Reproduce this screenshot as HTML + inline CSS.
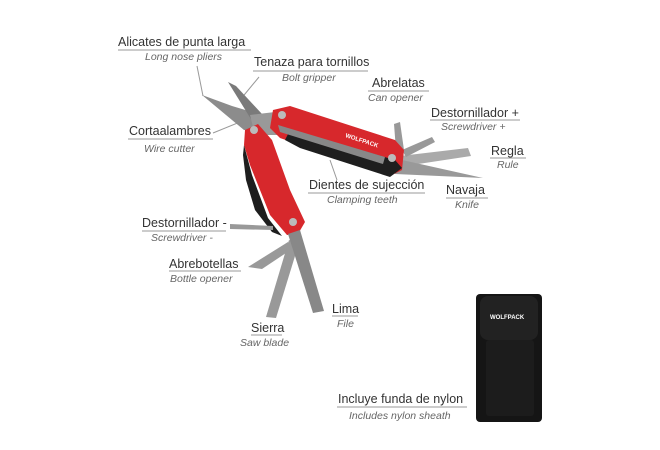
<!DOCTYPE html>
<html><head><meta charset="utf-8"><style>
body{margin:0;background:#fff;}
svg{display:block}
.u{font-family:"Liberation Sans",sans-serif;font-size:12.5px;fill:#333}
.i{font-family:"Liberation Sans",sans-serif;font-size:10.5px;font-style:italic;fill:#666}
.l{stroke:#999;stroke-width:1}
</style></head><body>
<svg width="660" height="450" viewBox="0 0 660 450">
<g class="l" fill="none">
<line x1="118" y1="50" x2="251" y2="50"/>
<line x1="253" y1="71" x2="368" y2="71"/>
<line x1="368" y1="91" x2="429" y2="91"/>
<line x1="430" y1="120" x2="520" y2="120"/>
<line x1="490" y1="158" x2="526" y2="158"/>
<line x1="128" y1="139" x2="213" y2="139"/>
<line x1="308" y1="193" x2="425" y2="193"/>
<line x1="446" y1="198" x2="488" y2="198"/>
<line x1="142" y1="231" x2="226" y2="231"/>
<line x1="169" y1="271" x2="241" y2="271"/>
<line x1="251" y1="335" x2="282" y2="335"/>
<line x1="332" y1="316" x2="358" y2="316"/>
<line x1="337" y1="407" x2="467" y2="407"/>
<line x1="197" y1="66" x2="203" y2="96"/>
<line x1="259" y1="77" x2="240" y2="100"/>
<line x1="213" y1="133" x2="240" y2="122"/>
<line x1="337" y1="180" x2="330" y2="160"/>
</g>
<g>
<!-- pliers jaws -->
<polygon points="202,95 232,106 272,118 274,132 244,130" fill="#8c8c8c"/>
<polygon points="228,82 236,86 262,114 254,124" fill="#7a7a7a"/>
<polygon points="250,115 275,112 280,135 255,135" fill="#999"/>
<!-- right blades -->
<polygon points="400,156 468,148 471,156 405,166" fill="#aaa"/>
<polygon points="393,158 483,178 395,174" fill="#999"/>
<polygon points="394,124 400,122 404,150 396,150" fill="#999"/>
<polygon points="402,150 432,137 435,142 406,157" fill="#999"/>
<!-- upper handle -->
<polygon points="273,110 290,106 395,140 404,150 402,170 390,176 280,138 270,128" fill="#d7282c"/>
<polygon points="290,130 395,160 402,168 390,177 300,148 285,140" fill="#1e1e1e"/>
<polygon points="278,125 385,157 383,164 280,132" fill="#888"/>
<circle cx="282" cy="115" r="4" fill="#bbb"/>
<circle cx="392" cy="158" r="4" fill="#bbb"/>
<text x="345" y="137" font-family="Liberation Sans" font-size="6" font-weight="bold" fill="#fff" transform="rotate(18 345 137)">WOLFPACK</text>
<!-- lower handle -->
<polygon points="245,130 258,124 272,140 290,190 305,222 298,234 287,235 270,215 250,165 244,145" fill="#d7282c"/>
<polygon points="244,145 252,175 268,218 282,236 272,232 255,210 246,180 243,155" fill="#1e1e1e"/>
<circle cx="254" cy="130" r="4" fill="#bbb"/>
<circle cx="293" cy="222" r="4" fill="#bbb"/>
<!-- lower tools -->
<polygon points="230,224 273,226 273,230 230,229" fill="#999"/>
<polygon points="248,267 288,242 292,249 262,269" fill="#999"/>
<polygon points="289,240 299,243 276,318 266,317" fill="#999"/>
<polygon points="288,234 300,230 324,311 313,313" fill="#888"/>
</g>
<!-- sheath -->
<rect x="476" y="294" width="66" height="128" rx="4" fill="#151515"/>
<rect x="480" y="296" width="58" height="44" rx="8" fill="#222"/>
<rect x="486" y="340" width="48" height="76" rx="3" fill="#1c1c1c"/>
<text x="490" y="319" font-family="Liberation Sans" font-size="6" font-weight="bold" fill="#fff">WOLFPACK</text>
<!-- labels -->
<text class="u" x="118" y="46">Alicates de punta larga</text>
<text class="i" x="145" y="60">Long nose pliers</text>
<text class="u" x="254" y="66">Tenaza para tornillos</text>
<text class="i" x="282" y="81">Bolt gripper</text>
<text class="u" x="372" y="87">Abrelatas</text>
<text class="i" x="368" y="101">Can opener</text>
<text class="u" x="431" y="117">Destornillador +</text>
<text class="i" x="441" y="130">Screwdriver +</text>
<text class="u" x="491" y="155">Regla</text>
<text class="i" x="497" y="168">Rule</text>
<text class="u" x="129" y="135">Cortaalambres</text>
<text class="i" x="144" y="152">Wire cutter</text>
<text class="u" x="309" y="189">Dientes de sujección</text>
<text class="i" x="327" y="203">Clamping teeth</text>
<text class="u" x="446" y="194">Navaja</text>
<text class="i" x="455" y="208">Knife</text>
<text class="u" x="142" y="227">Destornillador -</text>
<text class="i" x="151" y="241">Screwdriver -</text>
<text class="u" x="169" y="268">Abrebotellas</text>
<text class="i" x="170" y="282">Bottle opener</text>
<text class="u" x="251" y="332">Sierra</text>
<text class="i" x="240" y="346">Saw blade</text>
<text class="u" x="332" y="313">Lima</text>
<text class="i" x="337" y="327">File</text>
<text class="u" x="338" y="403">Incluye funda de nylon</text>
<text class="i" x="349" y="419">Includes nylon sheath</text>
</svg>
</body></html>
